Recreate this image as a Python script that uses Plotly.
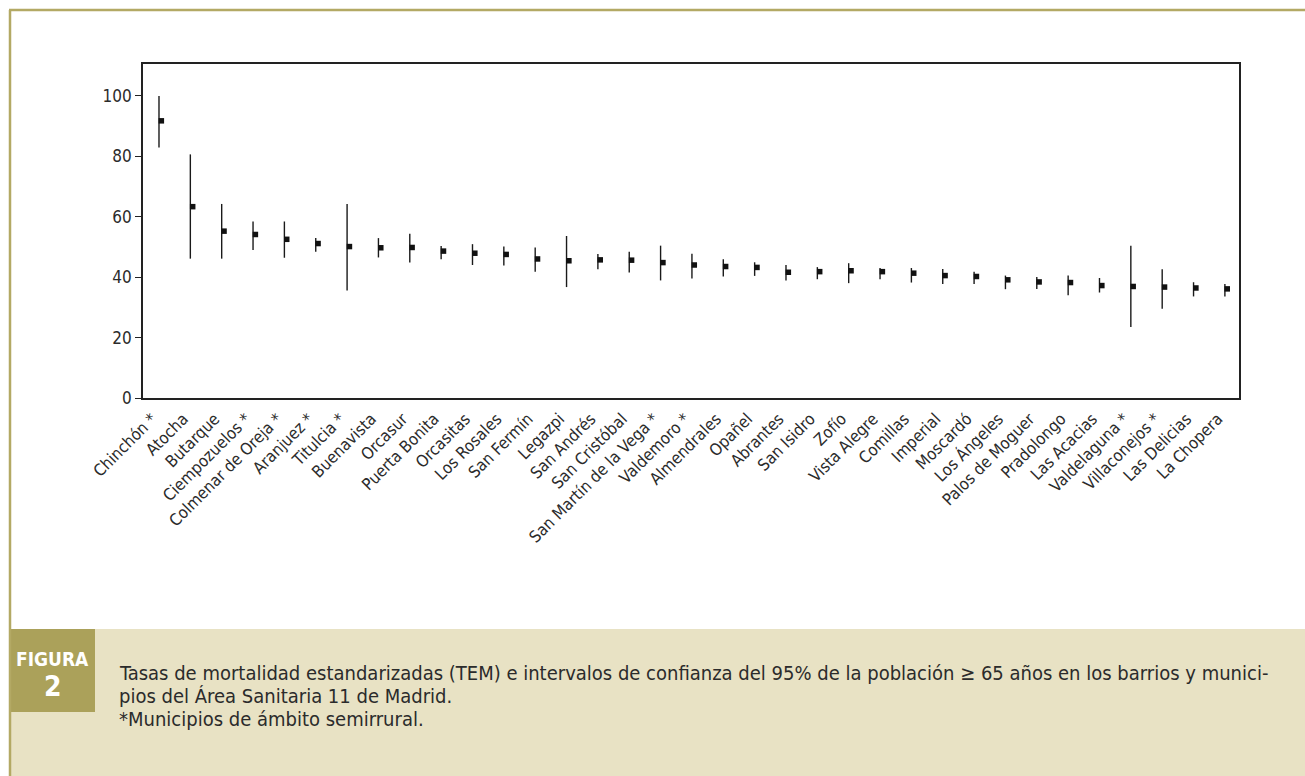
import plotly.graph_objects as go

categories = ["Chinchón*", "Atocha", "Butarque", "Ciempozuelos*", "Colmenar de Oreja*",
              "Aranjuez*", "Titulcia*", "Buenavista", "Orcasur", "Puerta Bonita",
              "Orcasitas", "Los Rosales", "San Fermín", "Legazpi", "San Andrés",
              "San Cristóbal", "San Martín de la Vega*", "Valdemoro*", "Almendrales", "Opañel",
              "Abrantes", "San Isidro", "Zofío", "Vista Alegre", "Comillas",
              "Imperial", "Moscardó", "Los Ángeles", "Palos de Moguer", "Pradolongo",
              "Las Acacias", "Valdelaguna*", "Villaconejos*", "Las Delicias", "La Chopera"]
tem = [91.7, 63.3, 55.2, 54.1, 52.5, 51.1, 50.1, 49.7, 49.8, 48.6,
       47.9, 47.5, 46.0, 45.4, 45.7, 45.6, 44.8, 44.0, 43.5, 43.2,
       41.6, 41.8, 42.1, 41.8, 41.3, 40.5, 40.2, 39.1, 38.4, 38.2,
       37.2, 36.9, 36.7, 36.4, 36.1]
ci_upper = [99.9, 80.6, 64.2, 58.4, 58.4, 52.9, 64.2, 52.9, 54.3, 50.3,
            50.9, 50.1, 49.8, 53.6, 47.6, 48.4, 50.4, 47.7, 45.9, 44.9,
            44.0, 43.3, 44.6, 43.0, 43.0, 42.7, 41.8, 40.5, 40.0, 40.5,
            39.7, 50.4, 42.6, 38.3, 37.7]
ci_lower = [82.9, 46.1, 46.1, 49.0, 46.4, 48.4, 35.6, 46.5, 44.8, 45.9,
            44.0, 43.8, 41.8, 36.7, 42.6, 41.5, 38.9, 39.5, 40.2, 40.4,
            38.9, 39.3, 38.0, 39.3, 38.2, 37.7, 37.7, 36.0, 36.1, 34.0,
            34.9, 23.5, 29.5, 33.6, 33.6]
y_ticks = [0, 20, 40, 60, 80, 100]

caption_lines = [
    "Tasas de mortalidad estandarizadas (TEM) e intervalos de confianza del 95% de la población ≥ 65 años en los barrios y munici-",
    "pios del Área Sanitaria 11 de Madrid.",
    "*Municipios de ámbito semirrural.",
]

W, H = 1305, 776
PL, PR, PT, PB = 143, 1239, 64, 398
FONT = "Liberation Sans Narrow, Arial Narrow, DejaVu Sans Condensed, Liberation Sans, sans-serif"
OLIVE = "#b3a964"
OLIVE_DARK = "#aba15a"
BEIGE = "#e8e2c4"


def px(x):
    return (x - PL) / (PR - PL)


def py(y):
    return (PB - y) / (PB - PT)


idx = list(range(len(categories)))
err_plus = [u - v for u, v in zip(ci_upper, tem)]
err_minus = [v - l for v, l in zip(tem, ci_lower)]
labels = [c.replace("*", " *") if c.endswith("*") else c for c in categories]

fig = go.Figure()
fig.add_trace(go.Scatter(
    x=idx, y=tem, mode="markers",
    marker=dict(size=1, color="rgba(0,0,0,0)"),
    error_y=dict(type="data", symmetric=False, array=err_plus, arrayminus=err_minus,
                 thickness=1.4, width=0, color="#1a1a1a"),
    showlegend=False, hoverinfo="skip"))
fig.add_trace(go.Scatter(
    x=idx, y=tem, mode="markers", xaxis="x2",
    marker=dict(symbol="square", size=5.5, color="#111111", line=dict(width=0)),
    showlegend=False))

xr = [-0.51, 34.45]
shift = 0.075
fig.update_layout(
    width=W, height=H,
    margin=dict(l=PL, r=W - PR, t=PT, b=H - PB, pad=0),
    paper_bgcolor="white", plot_bgcolor="white",
    font=dict(family=FONT, color="#2b2b2b"),
    xaxis=dict(range=xr, tickmode="array", tickvals=idx, ticktext=labels,
               tickangle=-45, tickfont=dict(size=16.5, family=FONT, color="#2b2b2b"),
               ticklabelshift=-7, ticklabelstandoff=3,
               showgrid=False, zeroline=False, ticks="",
               showline=True, linecolor="#222222", linewidth=1.6, mirror=True),
    xaxis2=dict(range=[xr[0] - shift, xr[1] - shift], overlaying="x", visible=False),
    yaxis=dict(range=[0, 110.5], tickvals=y_ticks, ticks="outside", ticklen=6,
               tickwidth=1.4, tickcolor="#222222",
               tickfont=dict(size=17, family=FONT, color="#2b2b2b"),
               showgrid=False, zeroline=False,
               showline=True, linecolor="#222222", linewidth=1.6, mirror=True),
)

shapes = [
    dict(type="rect", xref="paper", yref="paper", x0=px(10), x1=px(W), y0=py(629), y1=py(H),
         fillcolor=BEIGE, line=dict(width=0), layer="below"),
    dict(type="rect", xref="paper", yref="paper", x0=px(10), x1=px(95), y0=py(629), y1=py(712),
         fillcolor=OLIVE_DARK, line=dict(width=0)),
    dict(type="line", xref="paper", yref="paper", x0=px(10), x1=px(10), y0=py(10), y1=py(H),
         line=dict(color=OLIVE, width=2.5)),
    dict(type="line", xref="paper", yref="paper", x0=px(9), x1=px(W), y0=py(10), y1=py(10),
         line=dict(color=OLIVE, width=2.5)),
]
fig.update_layout(shapes=shapes)

annotations = [
    dict(text="<b>FIGURA</b>", x=px(52.5), y=py(659), xref="paper", yref="paper",
         showarrow=False, xanchor="center", yanchor="middle",
         font=dict(size=19, color="white", family=FONT)),
    dict(text="<b>2</b>", x=px(52.5), y=py(686), xref="paper", yref="paper",
         showarrow=False, xanchor="center", yanchor="middle",
         font=dict(size=28, color="white", family=FONT)),
]
for i, line in enumerate(caption_lines):
    annotations.append(dict(text=line, x=px(117), y=py(673 + i * 23), xref="paper", yref="paper",
                            showarrow=False, xanchor="left", yanchor="middle", align="left",
                            font=dict(size=20, color="#2b2b2b", family=FONT)))
fig.update_layout(annotations=annotations)

fig.write_html("out.html", config={"displayModeBar": False},
               post_script="document.body.style.margin='0';")
